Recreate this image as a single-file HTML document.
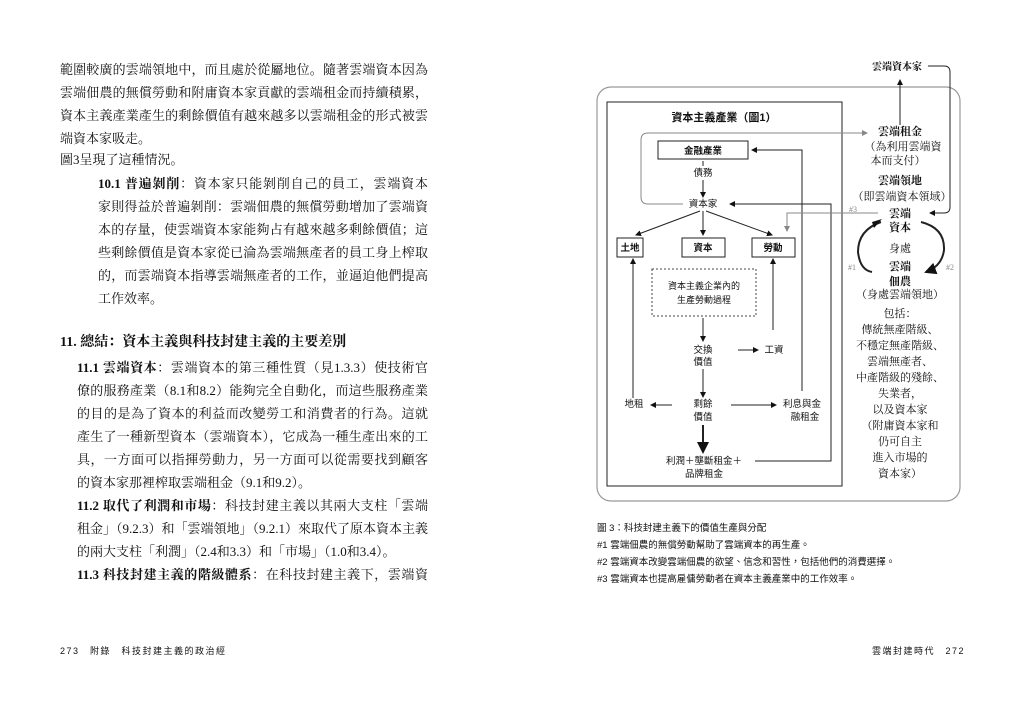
<!DOCTYPE html>
<html><head><meta charset="utf-8">
<style>
html,body{margin:0;padding:0;background:#fff;}
body{width:1024px;height:727px;position:relative;overflow:hidden;font-family:"Liberation Serif","Noto Serif CJK SC","Noto Sans CJK TC",serif;color:#111;}
.l{position:absolute;font-size:13px;line-height:16px;white-space:nowrap;text-align:justify;text-align-last:justify;}
.b{font-weight:bold;}
.s{text-align-last:left;}
.foot{position:absolute;top:644px;font-size:9px;letter-spacing:1.5px;font-family:"Liberation Sans","Noto Sans CJK TC",sans-serif;}
.cap{position:absolute;left:597px;font-size:9.5px;font-family:"Liberation Sans","Noto Sans CJK TC",sans-serif;white-space:nowrap;}
svg text{font-family:"Liberation Sans","Noto Sans CJK TC",sans-serif;}
svg .sr text{font-family:"Liberation Serif","Noto Serif CJK SC",serif;}
</style></head><body>
<div class="l" style="left:60px;top:62px;width:368px">範圍較廣的雲端領地中，而且處於從屬地位。隨著雲端資本因為</div>
<div class="l" style="left:60px;top:85px;width:368px">雲端佃農的無償勞動和附庸資本家貢獻的雲端租金而持續積累，</div>
<div class="l" style="left:60px;top:108px;width:368px">資本主義產業產生的剩餘價值有越來越多以雲端租金的形式被雲</div>
<div class="l s" style="left:60px;top:131px;width:368px">端資本家吸走。</div>
<div class="l s" style="left:60px;top:152px;width:368px">圖3呈現了這種情況。</div>
<div class="l" style="left:98px;top:176px;width:330px"><b>10.1 普遍剝削</b>：資本家只能剝削自己的員工，雲端資本</div>
<div class="l" style="left:98px;top:199px;width:330px">家則得益於普遍剝削：雲端佃農的無償勞動增加了雲端資</div>
<div class="l" style="left:98px;top:222px;width:330px">本的存量，使雲端資本家能夠占有越來越多剩餘價值；這</div>
<div class="l" style="left:98px;top:245px;width:330px">些剩餘價值是資本家從已淪為雲端無產者的員工身上榨取</div>
<div class="l" style="left:98px;top:268px;width:330px">的，而雲端資本指導雲端無產者的工作，並逼迫他們提高</div>
<div class="l s" style="left:98px;top:291px;width:330px">工作效率。</div>
<div class="l s b" style="left:60px;top:335px;font-size:14px">11. 總結：資本主義與科技封建主義的主要差別</div>
<div class="l" style="left:77px;top:360px;width:351px"><b>11.1 雲端資本</b>：雲端資本的第三種性質（見1.3.3）使技術官</div>
<div class="l" style="left:77px;top:383px;width:351px">僚的服務產業（8.1和8.2）能夠完全自動化，而這些服務產業</div>
<div class="l" style="left:77px;top:406px;width:351px">的目的是為了資本的利益而改變勞工和消費者的行為。這就</div>
<div class="l" style="left:77px;top:429px;width:351px">產生了一種新型資本（雲端資本），它成為一種生產出來的工</div>
<div class="l" style="left:77px;top:452px;width:351px">具，一方面可以指揮勞動力，另一方面可以從需要找到顧客</div>
<div class="l s" style="left:77px;top:475px;width:351px">的資本家那裡榨取雲端租金（9.1和9.2）。</div>
<div class="l" style="left:77px;top:498px;width:351px"><b>11.2 取代了利潤和市場</b>：科技封建主義以其兩大支柱「雲端</div>
<div class="l" style="left:77px;top:521px;width:351px">租金」（9.2.3）和「雲端領地」（9.2.1）來取代了原本資本主義</div>
<div class="l s" style="left:77px;top:544px;width:351px">的兩大支柱「利潤」（2.4和3.3）和「市場」（1.0和3.4）。</div>
<div class="l" style="left:77px;top:567px;width:351px"><b>11.3 科技封建主義的階級體系</b>：在科技封建主義下，雲端資</div>
<div class="foot" style="left:60px">273　附錄　科技封建主義的政治經</div>
<div class="foot" style="left:872px">雲端封建時代　272</div>

<svg style="position:absolute;left:0;top:0" width="1024" height="727" viewBox="0 0 1024 727">
<defs>
<marker id="a" markerWidth="6" markerHeight="6" refX="5" refY="3" orient="auto"><path d="M0,0 L6,3 L0,6z" fill="#111"/></marker>
<marker id="g" markerWidth="6" markerHeight="6" refX="5" refY="3" orient="auto"><path d="M0,0 L6,3 L0,6z" fill="#888"/></marker>
</defs>
<rect x="597" y="87" width="363" height="414" rx="14" fill="none" stroke="#999" stroke-width="1.2"/>
<rect x="607" y="102" width="235" height="384" fill="none" stroke="#222" stroke-width="1"/>
<g font-size="9.5" fill="#111" text-anchor="middle">
<text x="724" y="121" font-size="11" font-weight="bold">資本主義產業（圖1）</text>
<rect x="658" y="141" width="90" height="18" fill="#fff" stroke="#222"/>
<text x="703" y="154" font-weight="bold">金融產業</text>
<text x="703" y="176">債務</text>
<text x="703" y="207">資本家</text>
<rect x="617" y="238" width="26" height="19" fill="#fff" stroke="#222"/><text x="630" y="251" font-weight="bold">土地</text>
<rect x="682" y="238" width="43" height="19" fill="#fff" stroke="#222"/><text x="703" y="251" font-weight="bold">資本</text>
<rect x="752" y="238" width="43" height="19" fill="#fff" stroke="#222"/><text x="773" y="251" font-weight="bold">勞動</text>
<rect x="652" y="269" width="104" height="47" fill="none" stroke="#444" stroke-dasharray="2,2"/>
<text x="704" y="289" font-size="9">資本主義企業內的</text>
<text x="704" y="303" font-size="9">生產勞動過程</text>
<text x="703" y="353">交換</text><text x="703" y="365">價值</text>
<text x="774" y="353">工資</text>
<text x="703" y="407">剩餘</text><text x="703" y="420">價值</text>
<text x="634" y="407">地租</text>
<text x="802" y="407">利息與金</text><text x="805" y="420">融租金</text>
<text x="704" y="464">利潤＋壟斷租金＋</text><text x="704" y="477">品牌租金</text>
</g>
<g stroke="#222" stroke-width="1" fill="none">
<line x1="703" y1="161" x2="703" y2="166"/>
<line x1="703" y1="180" x2="703" y2="197" marker-end="url(#a)"/>
<line x1="703" y1="211" x2="703" y2="235" marker-end="url(#a)"/>
<line x1="700" y1="211" x2="636" y2="235" marker-end="url(#a)"/>
<line x1="706" y1="211" x2="772" y2="235" marker-end="url(#a)"/>
<line x1="703" y1="318" x2="703" y2="341" marker-end="url(#a)"/>
<line x1="738" y1="350" x2="758" y2="350" marker-end="url(#a)"/>
<line x1="703" y1="369" x2="703" y2="397" marker-end="url(#a)"/>
<line x1="672" y1="405" x2="651" y2="405" marker-end="url(#a)"/>
<line x1="731" y1="405" x2="776" y2="405" marker-end="url(#a)"/>
<line x1="703" y1="425" x2="703" y2="452" stroke-width="2" marker-end="url(#a)"/>
<line x1="633" y1="398" x2="633" y2="259" marker-end="url(#a)"/>
<line x1="773" y1="330" x2="773" y2="259" marker-end="url(#a)"/>
<polyline points="802,391 802,150 752,150" marker-end="url(#a)"/>
<polyline points="755,461 831,461 831,204 730,204" marker-end="url(#a)"/>
<line x1="900" y1="125" x2="900" y2="80" marker-end="url(#a)"/>
<path d="M928,66 L944,66 Q950,66 950,72 L950,207 Q950,213 944,213 L930,213" marker-end="url(#a)"/>
<path d="M881,222 Q858,230 858,252 Q860,270 872,272" stroke-width="2"/>
<path d="M872,222 L882,219 L874,228" fill="#111" stroke="none"/>
<path d="M921,222 Q945,228 944,250 Q942,266 926,272" stroke-width="2" marker-end="url(#a)"/>
</g>
<g stroke="#888" stroke-width="1" fill="none">
<path d="M683,204 L648,204 Q641,204 641,197 L641,140 Q641,133 648,133 L867,133" marker-end="url(#g)"/>
<polyline points="878,213 787,213 787,231" marker-end="url(#g)"/>
</g>
<g class="sr" font-size="11" fill="#111" text-anchor="middle">
<text x="897" y="70" font-weight="bold" font-size="10">雲端資本家</text>
<text x="900" y="135" font-weight="bold">雲端租金</text>
<text x="903" y="150">（為利用雲端資</text>
<text x="898" y="164">本而支付）</text>
<text x="900" y="184" font-weight="bold">雲端領地</text>
<text x="902" y="200">（即雲端資本領域）</text>
<text x="900" y="217" font-weight="bold">雲端</text>
<text x="900" y="231" font-weight="bold">資本</text>
<text x="900" y="252">身處</text>
<text x="900" y="270" font-weight="bold">雲端</text>
<text x="900" y="285" font-weight="bold">佃農</text>
<text x="900" y="298">（身處雲端領地）</text>
<text x="900" y="317">包括：</text>
<text x="900" y="333">傳統無產階級、</text>
<text x="900" y="349">不穩定無產階級、</text>
<text x="900" y="365">雲端無產者、</text>
<text x="900" y="381">中產階級的殘餘、</text>
<text x="900" y="397">失業者，</text>
<text x="900" y="413">以及資本家</text>
<text x="900" y="429">（附庸資本家和</text>
<text x="900" y="445">仍可自主</text>
<text x="900" y="461">進入市場的</text>
<text x="900" y="477">資本家）</text>
<text x="853" y="212" font-size="8" fill="#888">#3</text>
<text x="852" y="270" font-size="8" fill="#888">#1</text>
<text x="950" y="270" font-size="8" fill="#888">#2</text>
</g>
</svg>
<div class="cap" style="top:520px">圖 3：科技封建主義下的價值生產與分配</div>
<div class="cap" style="top:537px">#1 雲端佃農的無償勞動幫助了雲端資本的再生產。</div>
<div class="cap" style="top:554px">#2 雲端資本改變雲端佃農的欲望、信念和習性，包括他們的消費選擇。</div>
<div class="cap" style="top:571px">#3 雲端資本也提高雇傭勞動者在資本主義產業中的工作效率。</div>
</body></html>
